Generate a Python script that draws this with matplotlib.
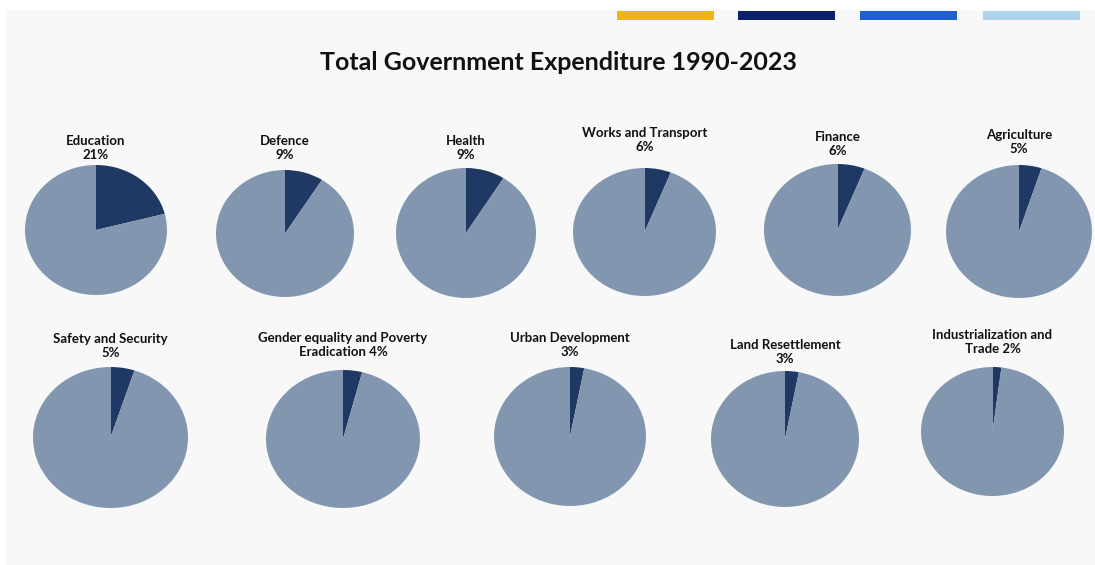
import matplotlib
matplotlib.use("Agg")
import matplotlib.pyplot as plt
from matplotlib.patches import Rectangle

# Share of total government expenditure by sector, 1990-2023 (%)
sectors = [
    "Education", "Defence", "Health", "Works and Transport", "Finance",
    "Agriculture", "Safety and Security", "Gender equality and Poverty",
    "Urban Development", "Land Resettlement", "Industrialization and",
]
label_tails = [
    "", "", "", "", "", "", "", "Eradication", "", "", "Trade",
]
shares = [21, 9, 9, 6, 6, 5, 5, 4, 3, 3, 2]

W, H = 1095, 565
DARK = "#203864"
LIGHT = "#8396b0"
FONT = ["Lato", "DejaVu Sans"]

# pie bounding boxes in pixels: (left, top, right, bottom) and label centre y
boxes = [
    (25, 165, 167, 295), (216, 170, 354, 297), (396, 168, 536, 298),
    (573, 168, 716, 296), (764, 164, 911, 296), (946, 165, 1092, 298),
    (33, 367, 188, 508), (266, 370, 420, 508), (494, 367, 646, 506),
    (711, 371, 859, 507), (921, 367, 1064, 496),
]
label_y = [148, 148, 148, 140, 144, 142, 346, 345, 345, 352, 342]

fig = plt.figure(figsize=(W / 100, H / 100), dpi=100)
fig.patch.set_facecolor("white")

bg = fig.add_axes([0, 0, 1, 1])
bg.set_xlim(0, W)
bg.set_ylim(H, 0)
bg.axis("off")
bg.add_patch(Rectangle((6, 10), W, H, facecolor="#f8f8f8", edgecolor="none"))

# decorative colour strip
for x0, c in zip([617, 738, 860, 983], ["#efb612", "#0c1f6b", "#1f5fcf", "#add4ea"]):
    bg.add_patch(Rectangle((x0, 11), 97, 9, facecolor=c, edgecolor="none"))

bg.text(558, 63, "Total Government Expenditure 1990-2023", ha="center", va="center",
        fontsize=18, fontweight="bold", family=FONT, color="#111111")

for name, tail, val, (l, t, r, b), ly in zip(sectors, label_tails, shares, boxes, label_y):
    ax = fig.add_axes([l / W, 1 - b / H, (r - l) / W, (b - t) / H])
    ax.pie([val, 100 - val], colors=[DARK, LIGHT], startangle=90,
           counterclock=False, radius=1.0,
           wedgeprops=dict(linewidth=0))
    ax.set_aspect("auto")
    ax.set_xlim(-1, 1)
    ax.set_ylim(-1, 1)
    second = f"{tail} {val}%" if tail else f"{val}%"
    bg.text((l + r) / 2, ly, f"{name}\n{second}", ha="center", va="center",
            fontsize=9.5, fontweight="bold", family=FONT, color="#111111",
            linespacing=1.2)

fig.savefig("out.png", dpi=100, facecolor=fig.get_facecolor())
